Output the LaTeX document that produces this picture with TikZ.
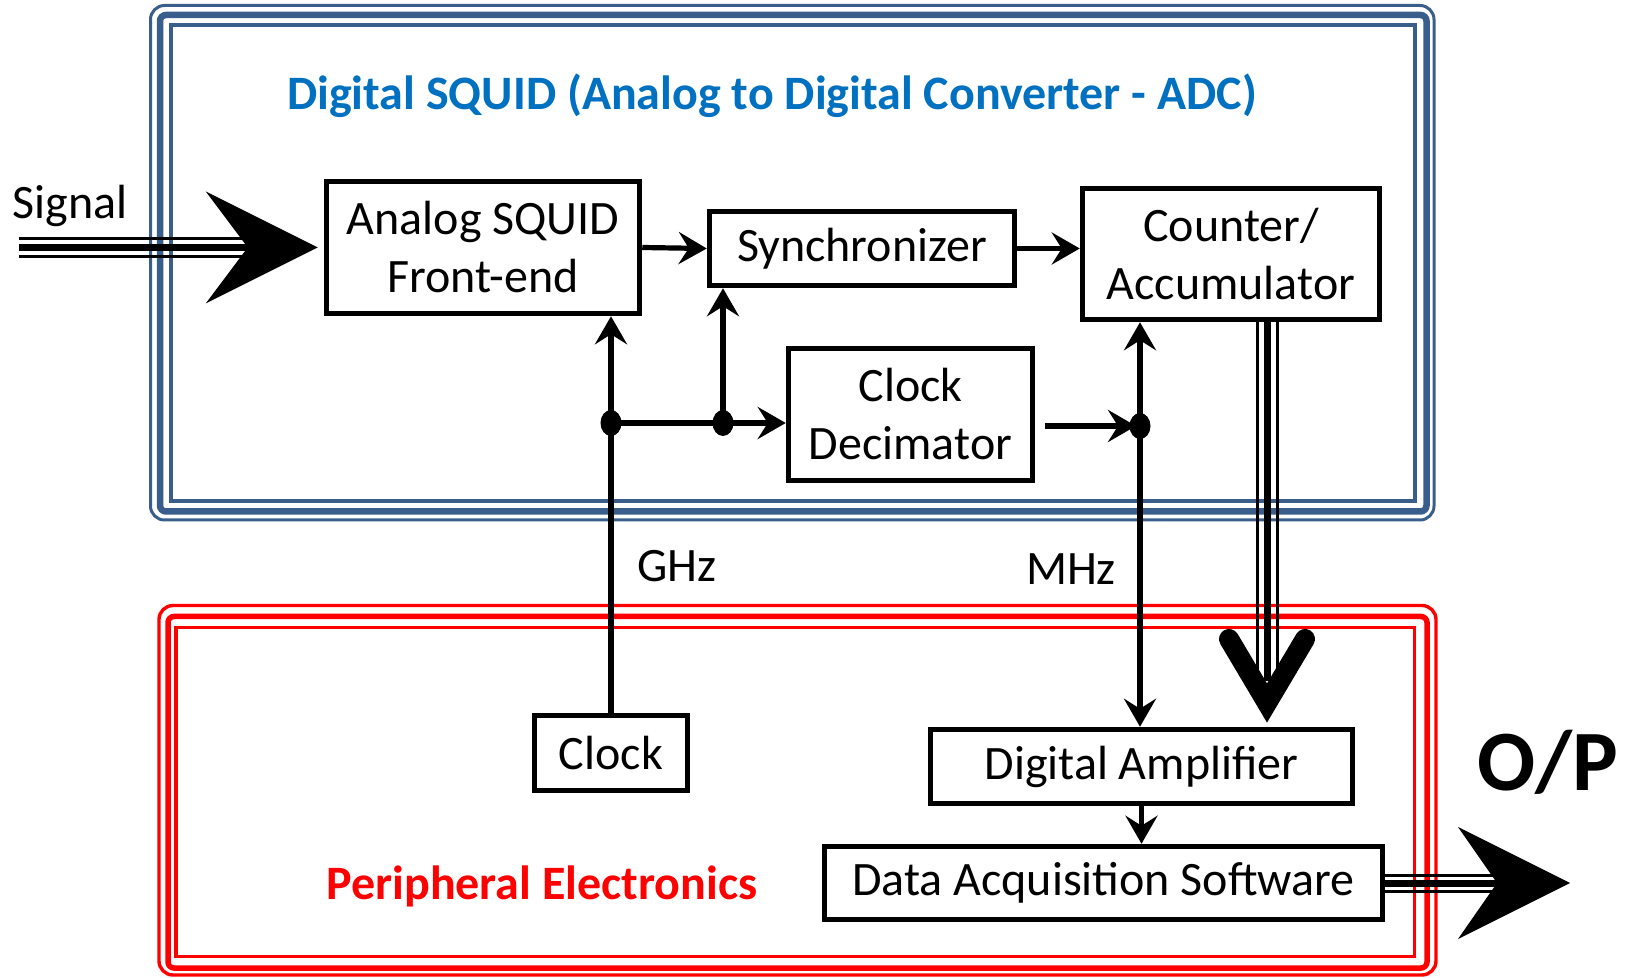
\documentclass[tikz,border=0pt]{standalone}
\usepackage{fontspec}
\setmainfont{Carlito}
\usetikzlibrary{arrows.meta,shapes.geometric}
\definecolor{frameblue}{HTML}{3A5E8C}
\definecolor{titleblue}{HTML}{0070C0}
\definecolor{pered}{HTML}{FF0000}
\newcommand\mainfs{\fontsize{24}{29}\selectfont}
\begin{document}
\begin{tikzpicture}[x=0.5pt,y=-0.5pt,
  box/.style={draw, line width=2.75pt, inner sep=0pt, align=center, font=\mainfs},
  lbl/.style={font=\mainfs, inner sep=0pt},
  ln/.style={line width=2.6pt},
  arr/.style={line width=2.6pt, -{Stealth[length=14pt,width=16pt,inset=5pt]}},
  dot/.style={ellipse, fill=black, inner sep=0pt, minimum width=10.5pt, minimum height=13pt},
  thinl/.style={line width=1.5pt},
  thickl/.style={line width=3.5pt}]
\useasboundingbox (0,0) rectangle (1629,978);

% Digital SQUID frame
\draw[frameblue, line width=1.5pt, rounded corners=7pt] (150.5,5.5) rectangle (1434,520);
\draw[frameblue, line width=3.25pt, rounded corners=3pt] (160,15) rectangle (1426.5,511.5);
\draw[frameblue, line width=2pt] (171,25) rectangle (1415,501);
% Peripheral frame
\draw[pered, line width=1.7pt, rounded corners=7pt] (159,605.5) rectangle (1436,975);
\draw[pered, line width=2.75pt, rounded corners=3pt] (168,616.5) rectangle (1427,968);
\draw[pered, line width=1.75pt] (176,627.5) rectangle (1414.5,956.5);

% boxes
\node[box, minimum width=156.5pt, minimum height=66pt] (fe) at (483,247.5) {Analog SQUID\\Front-end};
\node[box, minimum width=152.5pt, minimum height=37pt] (sync) at (862,248.5) {Synchronizer};
\node[box, minimum width=148.5pt, minimum height=65.5pt] (cnt) at (1231,254) {Counter/\\Accumulator};
\node[box, minimum width=122pt, minimum height=66pt] (dec) at (910.5,414.5) {Clock\\Decimator};
\node[box, minimum width=76.5pt, minimum height=37.5pt] (clk) at (611,753) {Clock};
\node[box, minimum width=211pt, minimum height=37pt] (amp) at (1141.5,766.5) {Digital Amplifier};
\node[box, minimum width=279pt, minimum height=36.5pt] (daq) at (1103.5,883) {Data Acquisition Software};

% labels
\node[lbl] (sig) at (70,206) {Signal};
\node[lbl] (ghz) at (677,566) {GHz};
\node[lbl] (mhz) at (1071,569) {MHz};
\node[font=\mainfs\bfseries, text=titleblue, inner sep=0pt] (title) at (772,96) {Digital SQUID (Analog to Digital Converter - ADC)};
\node[font=\mainfs\bfseries, text=pered, inner sep=0pt] (pe) at (542,886) {Peripheral Electronics};
\node[font=\fontsize{43}{50}\selectfont\bfseries, inner sep=0pt] (op) at (1548,762) {O/P};

% junctions
\coordinate (j1) at (611,423);
\coordinate (j2) at (723,423);
\coordinate (j3) at (1140,426);

% connectors
\draw[ln] (clk.north) -- (j1);
\draw[arr] (j1) -- (j1 |- fe.south);
\draw[arr] (j1) -- (j1 -| dec.west);
\draw[arr] (j2) -- (j2 |- sync.south);
\draw[arr] ([xshift=5pt]dec.east |- j3) -- ([xshift=-2pt]j3);
\draw[arr] (j3) -- (j3 |- cnt.south);
\draw[arr] (j3) -- (j3 |- amp.north);
\draw[arr] (amp.south) -- (amp.south |- daq.north);
\draw[arr] (fe.east) -- (sync.west);
\draw[arr] (sync.east) -- (sync.east -| cnt.west);

\node[dot] (d1) at (j1) {};
\node[dot] (d2) at (j2) {};
\node[dot] (d3) at (j3) {};

% Signal input
\coordinate (sigtip) at ([xshift=-3pt]fe.west);
\coordinate (sigs) at (19,247.5);
\draw[thickl] (sigs) -- ([xshift=-35pt]sigtip);
\draw[thinl] ([yshift=4.6pt]sigs) -- ([xshift=-35pt,yshift=4.6pt]sigtip);
\draw[thinl] ([yshift=-4.6pt]sigs) -- ([xshift=-35pt,yshift=-4.6pt]sigtip);
\fill (sigtip) -- ++(-112,-56) -- ++(42,56) -- ++(-42,56) -- cycle;

% Counter to amplifier bus
\coordinate (vtip) at (1267,703);
\coordinate (vtop) at (cnt.south -| vtip);
\draw[thickl] (vtop) -- ([yshift=11pt]vtip);
\draw[thinl] ([xshift=-5pt]vtop) -- ([xshift=-5pt,yshift=16pt]vtip);
\draw[thinl] ([xshift=5pt]vtop) -- ([xshift=5pt,yshift=16pt]vtip);
\draw[line width=10pt, line cap=round, line join=miter] ([xshift=-19pt,yshift=32pt]vtip) -- (vtip) -- ([xshift=19pt,yshift=32pt]vtip);

% Output
\coordinate (optip) at (1570,883);
\draw[thickl] (daq.east) -- ([xshift=-36.5pt]optip);
\draw[thinl] ([yshift=4pt]daq.east) -- ([xshift=-36.5pt,yshift=4pt]optip);
\draw[thinl] ([yshift=-4pt]daq.east) -- ([xshift=-36.5pt,yshift=-4pt]optip);
\fill (optip) -- ++(-112,-56) -- ++(39,56) -- ++(-39,56) -- cycle;
\end{tikzpicture}
\end{document}
